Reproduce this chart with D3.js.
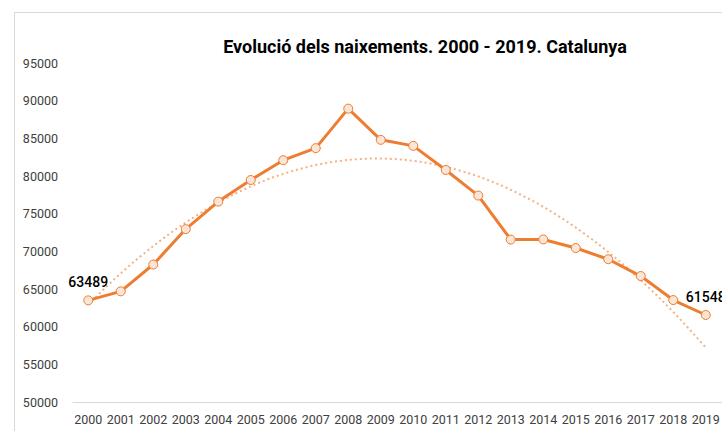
<!DOCTYPE html>
<html>
<head>
  <meta charset="UTF-8" />
  <title>Evolució dels naixements</title>
  <style>
    body { margin: 0; background: #fff; font-family: Roboto, sans-serif; }
    .tick text { fill: #404040; font-size: 12.5px; font-family: Roboto, sans-serif; }
  </style>
</head>
<body>
  <div id="chart"></div>
  <script src="https://d3js.org/d3.v7.min.js"></script>
  <script>
    // dades llegides del gràfic
    const years = ["2000", "2001", "2002", "2003", "2004", "2005", "2006", "2007", "2008", "2009",
      "2010", "2011", "2012", "2013", "2014", "2015", "2016", "2017", "2018", "2019"];
    const births = [63489, 64690, 68250, 72950, 76600, 79470, 82100, 83700, 88940, 84800,
      84000, 80800, 77400, 71560, 71580, 70440, 68950, 66720, 63530, 61548];
    // línia de tendència (polinòmica) llegida del gràfic
    const trend = [62963, 67075, 70697, 73828, 76469, 78620, 80280, 81450, 82129, 82318,
      82016, 81225, 79943, 78170, 75907, 73154, 69910, 66176, 61952, 57237];
    const yTicks = [50000, 55000, 60000, 65000, 70000, 75000, 80000, 85000, 90000, 95000];
    const labelled = ["2000", "2019"];

    const W = 722, H = 431;
    const svg = d3.select("#chart").append("svg")
      .attr("width", W)
      .attr("height", H);

    // marc del gràfic
    svg.append("rect")
      .attr("x", 14.5).attr("y", 12.5)
      .attr("width", W + 20).attr("height", H + 20)
      .attr("fill", "none")
      .attr("stroke", "#d9d9d9");

    svg.append("text")
      .attr("x", 425)
      .attr("y", 53)
      .attr("text-anchor", "middle")
      .attr("font-size", "18px")
      .attr("font-weight", "bold")
      .attr("fill", "#000")
      .text("Evolució dels naixements. 2000 - 2019. Catalunya");

    const x = d3.scaleBand()
      .domain(years)
      .range([72, 722]);

    const y = d3.scaleLinear()
      .domain([50000, 95000])
      .range([402, 63]);

    const cx = d => x(d) + x.bandwidth() / 2;

    svg.append("g")
      .attr("transform", "translate(60,0)")
      .call(d3.axisLeft(y).tickValues(yTicks).tickSize(0).tickPadding(2).tickFormat(d3.format("d")))
      .call(g => g.select(".domain").remove());

    svg.append("g")
      .attr("transform", "translate(0,402)")
      .call(d3.axisBottom(x).tickSize(0).tickPadding(13))
      .call(g => g.select(".domain").attr("stroke", "#d9d9d9"));

    const pts = years.map((yr, i) => ({ yr, v: births[i], t: trend[i] }));

    svg.append("path")
      .datum(pts)
      .attr("fill", "none")
      .attr("stroke", "#f4b183")
      .attr("stroke-width", 2)
      .attr("stroke-dasharray", "2,3")
      .attr("d", d3.line().x(d => cx(d.yr)).y(d => y(d.t)).curve(d3.curveNatural));

    svg.append("path")
      .datum(pts)
      .attr("fill", "none")
      .attr("stroke", "#ed7d31")
      .attr("stroke-width", 3)
      .attr("stroke-linejoin", "round")
      .attr("d", d3.line().x(d => cx(d.yr)).y(d => y(d.v)));

    svg.selectAll("circle.pt")
      .data(pts)
      .enter()
      .append("circle")
      .attr("class", "pt")
      .attr("cx", d => cx(d.yr))
      .attr("cy", d => y(d.v))
      .attr("r", 4.5)
      .attr("fill", "#fbe5d6")
      .attr("stroke", "#ed7d31")
      .attr("stroke-width", 1);

    svg.selectAll("text.lbl")
      .data(pts.filter(d => labelled.includes(d.yr)))
      .enter()
      .append("text")
      .attr("class", "lbl")
      .attr("x", d => cx(d.yr))
      .attr("y", d => y(d.v) - 13)
      .attr("text-anchor", "middle")
      .attr("font-size", "14px")
      .attr("font-weight", 500)
      .attr("fill", "#000")
      .text(d => d.v);
  </script>
</body>
</html>
